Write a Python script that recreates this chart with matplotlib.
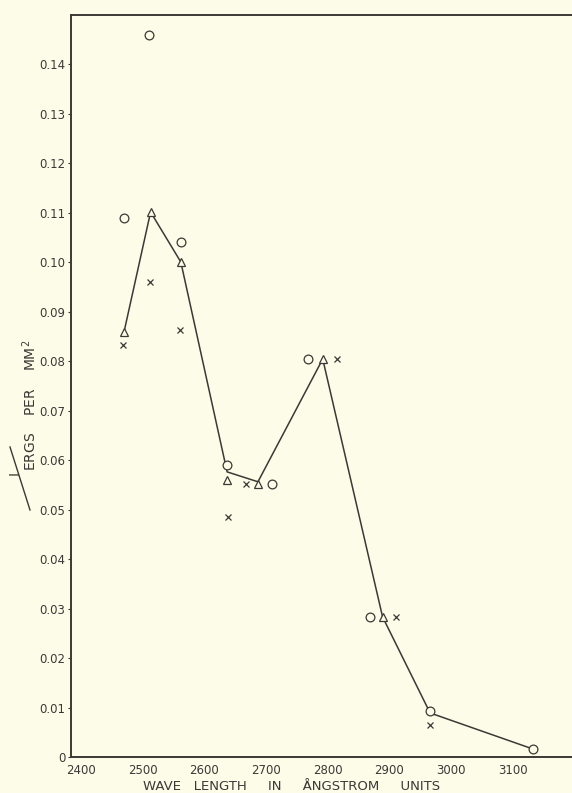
import numpy as np
import matplotlib
matplotlib.use("Agg")
import matplotlib.pyplot as plt
from matplotlib.lines import Line2D

# readings off the plate (wave length in angstrom, 1/ergs per mm^2)
circ_wl = [2470, 2510, 2562, 2637, 2710, 2768, 2868, 2966, 3133]
circ_val = [0.1089, 0.1459, 0.1040, 0.0590, 0.0552, 0.0804, 0.0283, 0.0093, 0.0016]

tri_wl = [2470, 2513, 2562, 2637, 2687, 2792, 2889]
tri_val = [0.0859, 0.1101, 0.1000, 0.0560, 0.0552, 0.0804, 0.0283]

cross_wl = [2468, 2512, 2560, 2638, 2667, 2815, 2910, 2966]
cross_val = [0.0832, 0.0960, 0.0863, 0.0485, 0.0552, 0.0804, 0.0283, 0.0065]

curve_wl = [2470, 2513, 2562, 2637, 2687, 2792, 2889, 2966, 3133]
curve_val = [0.0859, 0.1101, 0.1000, 0.0576, 0.0556, 0.0804, 0.0283, 0.0089, 0.0016]

yticks = [0, 0.01, 0.02, 0.03, 0.04, 0.05, 0.06, 0.07, 0.08, 0.09, 0.10, 0.11, 0.12, 0.13, 0.14]
ytick_labels = ["0", "0.01", "0.02", "0.03", "0.04", "0.05", "0.06", "0.07", "0.08",
                "0.09", "0.10", "0.11", "0.12", "0.13", "0.14"]
xticks = [2400, 2500, 2600, 2700, 2800, 2900, 3000, 3100]

paper = "#fdfce8"
ink = "#3a3936"

fig = plt.figure(figsize=(5.72, 7.93), dpi=100, facecolor=paper)
ax = fig.add_axes([71/572, 36/793, 1 - 71/572 + 0.01, (757-15)/793])
ax.set_facecolor(paper)

ax.plot(curve_wl, curve_val, color=ink, lw=1.1, zorder=2)
ax.plot(circ_wl, circ_val, ls="none", marker="o", ms=6.3, mfc=paper, mec=ink, mew=0.9, zorder=3)
ax.plot(tri_wl, tri_val, ls="none", marker="^", ms=6.3, mfc=paper, mec=ink, mew=0.9, zorder=3)
ax.plot(cross_wl, cross_val, ls="none", marker="x", ms=4.8, mec=ink, mew=0.9, zorder=3)

ax.set_xlim(2384, 3196 + 0.01*572/0.617)
ax.set_ylim(0, 0.1499)

ax.set_yticks(yticks)
ax.set_yticklabels(ytick_labels)
ax.set_xticks(xticks)
ax.tick_params(axis="y", length=2, width=0.8, color=ink, labelsize=8.5, labelcolor=ink, pad=2)
ax.tick_params(axis="x", length=0, labelsize=8.5, labelcolor=ink, pad=5)

for s in ["left", "bottom", "top"]:
    ax.spines[s].set_color(ink)
    ax.spines[s].set_linewidth(1.4)
ax.spines["right"].set_visible(False)

fig.text(292/572, 1 - 787/793, "WAVE   LENGTH     IN     ÅNGSTROM     UNITS", fontsize=9.5,
         color=ink, ha="center", va="center")

# y label: 1 / ERGS PER MM^2 written as a slanted fraction
fig.text(30/572, 1 - 405/793, "ERGS    PER    MM$^2$", rotation=90, fontsize=10,
         color=ink, ha="center", va="center")
fig.text(15/572, 1 - 473/793, "I", rotation=90, fontsize=10, color=ink, ha="center", va="center")
fig.add_artist(Line2D([10/572, 30/572], [1 - 447/793, 1 - 510/793], color=ink, lw=1.0))

plt.savefig("out.png", dpi=100, facecolor=paper)
